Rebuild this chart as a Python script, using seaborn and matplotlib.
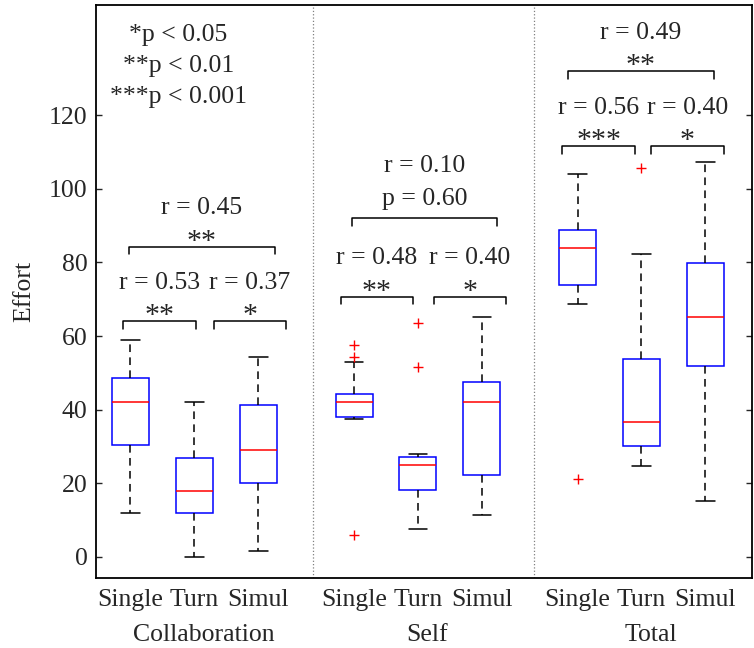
import numpy as np
import pandas as pd
import matplotlib
matplotlib.use("Agg")
import matplotlib.pyplot as plt
import matplotlib.transforms as mtransforms
import seaborn as sns

# ---------------- data ----------------
groups = ["Collaboration", "Self", "Total"]
conditions = ["Single", "Turn", "Simul"] * 3
positions = [1, 2, 3, 4.5, 5.5, 6.5, 8, 9, 10]
whisk_lo = [12.0, 0.0, 1.5, 37.4, 7.6, 11.2, 68.8, 24.7, 15.2]
q1 = [30.3, 11.9, 19.9, 37.9, 18.2, 22.1, 74.0, 30.1, 51.8]
median = [42.1, 17.9, 29.1, 42.1, 24.9, 42.1, 83.9, 36.6, 65.3]
q3 = [48.5, 26.7, 41.2, 44.2, 27.1, 47.4, 88.8, 53.7, 79.9]
whisk_hi = [58.8, 42.1, 54.2, 52.8, 27.9, 65.3, 104.0, 82.4, 107.2]
outlier_pos = [4.5, 4.5, 4.5, 5.5, 5.5, 8, 9]
outlier_val = [57.6, 54.3, 6.0, 63.6, 51.5, 21.1, 105.8]

# significance brackets
br_x0 = [0.875, 2.30, 0.97, 4.29, 5.75, 4.46, 7.76, 9.15, 7.85]
br_x1 = [2.03, 3.44, 3.26, 5.42, 6.88, 6.74, 8.90, 10.29, 10.13]
br_y = [64.0, 64.0, 84.3, 70.7, 70.7, 92.0, 111.6, 111.6, 132.0]
br_star = ["**", "*", "**", "**", "*", "", "***", "*", "**"]
br_r = ["r = 0.53", "r = 0.37", "r = 0.45", "r = 0.48", "r = 0.40", "p = 0.60",
        "r = 0.56", "r = 0.40", "r = 0.49"]
extra_text = ["r = 0.10"]
extra_y = [104.7]
legend_lines = ["*p < 0.05", "**p < 0.01", "***p < 0.001"]
legend_y = [140.1, 131.7, 123.4]
separators = [3.864, 7.315]

# ---------------- long-form table for seaborn ----------------
rows = []
for p, a, b, c, d, e in zip(positions, whisk_lo, q1, median, q3, whisk_hi):
    for v in (a, b, c, d, e):
        rows.append({"pos": p, "val": v})
df = pd.DataFrame(rows)
df_out = pd.DataFrame({"pos": outlier_pos, "val": outlier_val})

sns.set_style("ticks")
plt.rcParams["font.family"] = ["Liberation Serif", "DejaVu Serif"]
FS = 18.5

fig = plt.figure(figsize=(7.54, 6.48), dpi=100)
ax = fig.add_axes([96 / 754, 70 / 648, (752 - 96) / 754, (578 - 5) / 648])

sns.boxplot(data=df, x="pos", y="val", native_scale=True, whis=(0, 100),
            showfliers=False, width=0.58, color="white", linecolor="blue",
            linewidth=1.1,
            boxprops=dict(edgecolor="blue", facecolor="white"),
            whiskerprops=dict(color="black", linestyle=(0, (5, 3.5))),
            capprops=dict(color="black"),
            medianprops=dict(color="red"),
            ax=ax)
sns.scatterplot(data=df_out, x="pos", y="val", marker="+", color="red",
                s=60, linewidth=1.0, ax=ax, legend=False, zorder=5)

for s in separators:
    ax.axvline(s, color="grey", linestyle=":", linewidth=0.9)

# brackets and texts
for x0, x1, y, st, rt in zip(br_x0, br_x1, br_y, br_star, br_r):
    ax.plot([x0, x0, x1, x1], [y - 2, y, y, y - 2], color="black", lw=1.1)
    xc = (x0 + x1) / 2
    if st:
        ax.text(xc, y - 0.6, st, ha="center", va="baseline", fontsize=21.5)
        ax.text(xc, y + 8.8, rt, ha="center", va="baseline", fontsize=FS)
    else:
        ax.text(xc, y + 3.6, rt, ha="center", va="baseline", fontsize=FS)
ax.text((br_x0[5] + br_x1[5]) / 2, extra_y[0], extra_text[0], ha="center",
        va="baseline", fontsize=FS)
for t, y in zip(legend_lines, legend_y):
    ax.text(1.75, y, t, ha="center", va="baseline", fontsize=FS)

# axes
ax.set_xlim(0.46, 10.73)
ax.set_ylim(-5.8, 150)
ax.set_yticks([0, 20, 40, 60, 80, 100, 120])
ax.set_xticks(positions)
ax.set_xticklabels(conditions, fontsize=FS)
ax.tick_params(axis="x", length=0, pad=8)
ax.tick_params(axis="y", direction="in", length=4.5, width=1, right=True,
               labelsize=FS, pad=6)
ax.set_xlabel("")
ax.set_ylabel("Effort", fontsize=FS, labelpad=10)
for sp in ax.spines.values():
    sp.set_visible(True)
    sp.set_linewidth(1.3)
    sp.set_color("black")

trans = mtransforms.blended_transform_factory(ax.transData, ax.transAxes)
for g, p in zip(groups, [positions[1], positions[4], positions[7]]):
    ax.text(p + 0.15, -0.0995, g, ha="center", va="center", fontsize=FS,
            transform=trans)

fig.savefig("out.png", dpi=100)
